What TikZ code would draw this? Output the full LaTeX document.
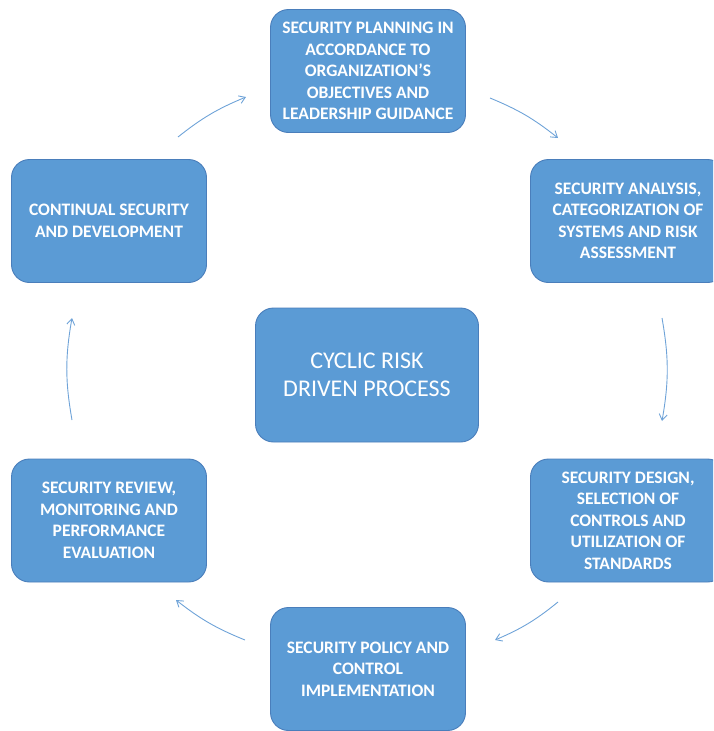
\documentclass[tikz,border=0pt]{standalone}
\usepackage{fontspec}
\setmainfont{Carlito}
\usetikzlibrary{arrows.meta}
\definecolor{boxfill}{HTML}{5B9BD5}
\definecolor{boxline}{HTML}{4A7EBB}
\definecolor{arrowblue}{HTML}{6FA3D8}
\begin{document}
\begin{tikzpicture}[x=1pt,y=-1pt,
  stage/.style={draw=boxline, line width=0.9pt, fill=boxfill, rounded corners=18pt,
    minimum width=195pt, minimum height=123pt, align=center, text=white,
    font=\bfseries\fontsize{17.5}{21.5}\selectfont, inner sep=0pt},
  hub/.style={stage, minimum width=223pt, minimum height=134pt,
    font=\fontsize{24}{27.5}\selectfont},
  cyc/.style={draw=arrowblue, line width=0.9pt, -{Straight Barb[length=6pt,width=8pt]}}]
\useasboundingbox (0,0) rectangle (713,731);
\clip (0,0) rectangle (713,731);

\node[stage] (plan) at (368,71) {SECURITY PLANNING IN\\ACCORDANCE TO\\ORGANIZATION’S\\OBJECTIVES AND\\LEADERSHIP GUIDANCE};
\node[stage] (analysis) at (628,221) {SECURITY ANALYSIS,\\CATEGORIZATION OF\\SYSTEMS AND RISK\\ASSESSMENT};
\node[stage] (design) at (628,520.5) {SECURITY DESIGN,\\SELECTION OF\\CONTROLS AND\\UTILIZATION OF\\STANDARDS};
\node[stage] (impl) at (368,669) {SECURITY POLICY AND\\CONTROL\\IMPLEMENTATION};
\node[stage] (review) at (109,520.5) {SECURITY REVIEW,\\MONITORING AND\\PERFORMANCE\\EVALUATION};
\node[stage] (continual) at (109,221) {CONTINUAL SECURITY\\AND DEVELOPMENT};
\node[hub] (hub) at (367,375) {CYCLIC RISK\\DRIVEN PROCESS};

% free ends of the circular arrows
\coordinate (a1s) at (178,137); \coordinate (a1e) at (246,97);
\coordinate (a2s) at (490,98);  \coordinate (a2e) at (558,138);
\coordinate (a3s) at (662,318); \coordinate (a3e) at (662,421);
\coordinate (a4s) at (558,602); \coordinate (a4e) at (495,640);
\coordinate (a5s) at (245,640); \coordinate (a5e) at (176,600);
\coordinate (a6s) at (72,420);  \coordinate (a6e) at (72,318);

\draw[cyc] (a1s) to[bend left=8] (a1e);
\draw[cyc] (a2s) to[bend left=8] (a2e);
\draw[cyc] (a3s) to[bend left=10] (a3e);
\draw[cyc] (a4s) to[bend left=8] (a4e);
\draw[cyc] (a5s) to[bend left=8] (a5e);
\draw[cyc] (a6s) to[bend left=10] (a6e);
\end{tikzpicture}
\end{document}
